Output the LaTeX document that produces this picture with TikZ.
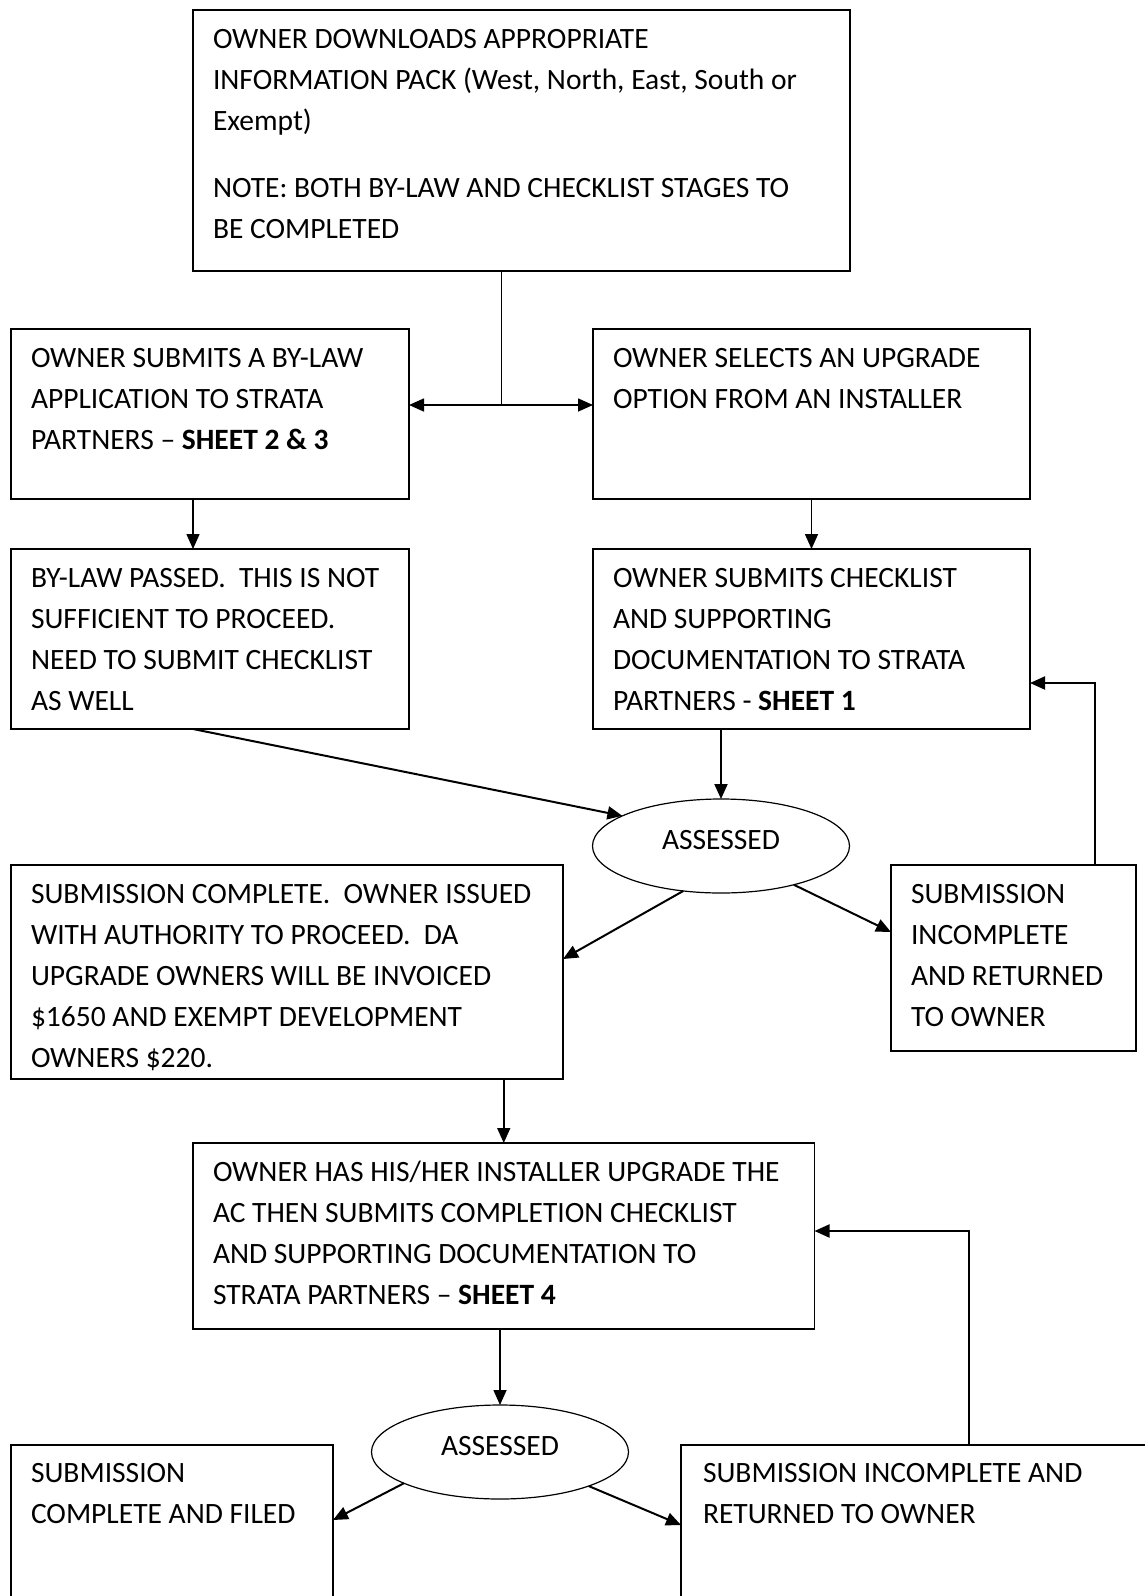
\documentclass[tikz,border=0pt]{standalone}
\usepackage{fontspec}
\setmainfont{Carlito}
\usetikzlibrary{shapes.geometric,arrows.meta}
\begin{document}
\begin{tikzpicture}[x=1pt,y=-1pt,
  box/.style={draw,line width=1.2pt,inner sep=0pt,outer sep=0pt,anchor=north west},
  txt/.style={inner sep=0pt,outer sep=0pt,anchor=north west,align=left,font=\fontsize{29.5}{40.8}\selectfont},
  oval/.style={draw,ellipse,line width=1.2pt,inner sep=0pt,outer sep=0pt,minimum width=257pt,minimum height=94pt},
  lbl/.style={inner sep=0pt,font=\fontsize{29.5}{40.8}\selectfont},
  arr/.style={line width=1.6pt,-{Triangle[length=15pt,width=13pt]}},
  thickarr/.style={arr,line width=2pt},
  link/.style={line width=0.9pt}
  ]
\useasboundingbox (0,0) rectangle (1145,1596);

% boxes
\node[box,minimum width=657pt,minimum height=261pt] (b1) at (193,10) {};
\node[box,minimum width=398pt,minimum height=170pt] (b2) at (11,329) {};
\node[box,minimum width=437pt,minimum height=170pt] (b3) at (593,329) {};
\node[box,minimum width=398pt,minimum height=180pt] (b4) at (11,549) {};
\node[box,minimum width=437pt,minimum height=180pt] (b5) at (593,549) {};
\node[box,minimum width=552pt,minimum height=214pt] (b6) at (11,865) {};
\node[box,minimum width=245pt,minimum height=186pt] (b7) at (891,865) {};
\node[box,minimum width=621.5pt,minimum height=186pt] (b8) at (193,1143) {};
\node[box,minimum width=322pt,minimum height=250pt] (b9) at (11,1445) {};
\node[box,minimum width=550pt,minimum height=250pt] (b10) at (681,1445) {};

\node[oval] (e1) at (721,846) {};
\node[oval] (e2) at (500,1452) {};

% texts
\node[txt] (t1) at ([shift={(20,10.4)}]b1.north west) {\strut OWNER DOWNLOADS APPROPRIATE\\INFORMATION PACK (West, North, East, South or\\Exempt)\\[26.5pt]NOTE: BOTH BY-LAW AND CHECKLIST STAGES TO\\BE COMPLETED};
\node[txt] (t2) at ([shift={(20,10.4)}]b2.north west) {\strut OWNER SUBMITS A BY-LAW\\APPLICATION TO STRATA\\PARTNERS -- \textbf{SHEET 2 \& 3}};
\node[txt] (t3) at ([shift={(20,10.4)}]b3.north west) {\strut OWNER SELECTS AN UPGRADE\\OPTION FROM AN INSTALLER};
\node[txt] (t4) at ([shift={(20,10.4)}]b4.north west) {\strut BY-LAW PASSED.\ \ THIS IS NOT\\SUFFICIENT TO PROCEED.\\NEED TO SUBMIT CHECKLIST\\AS WELL};
\node[txt] (t5) at ([shift={(20,10.4)}]b5.north west) {\strut OWNER SUBMITS CHECKLIST\\AND SUPPORTING\\DOCUMENTATION TO STRATA\\PARTNERS - \textbf{SHEET 1}};
\node[txt] (t6) at ([shift={(20,10.4)}]b6.north west) {\strut SUBMISSION COMPLETE.\ \ OWNER ISSUED\\WITH AUTHORITY TO PROCEED.\ \ DA\\UPGRADE OWNERS WILL BE INVOICED\\\$1650 AND EXEMPT DEVELOPMENT\\OWNERS \$220.};
\node[txt] (t7) at ([shift={(20,10.4)}]b7.north west) {\strut SUBMISSION\\INCOMPLETE\\AND RETURNED\\TO OWNER};
\node[txt] (t8) at ([shift={(20,10.4)}]b8.north west) {\strut OWNER HAS HIS/HER INSTALLER UPGRADE THE\\AC THEN SUBMITS COMPLETION CHECKLIST\\AND SUPPORTING DOCUMENTATION TO\\STRATA PARTNERS -- \textbf{SHEET 4}};
\node[txt] (t9) at ([shift={(20,9.4)}]b9.north west) {\strut SUBMISSION\\COMPLETE AND FILED};
\node[txt] (t10) at ([shift={(22,9.4)}]b10.north west) {\strut SUBMISSION INCOMPLETE AND\\RETURNED TO OWNER};
\node[lbl] (l1) at ([yshift=6pt]e1.center) {ASSESSED};
\node[lbl] (l2) at ([yshift=6pt]e2.center) {ASSESSED};

% connectors
\coordinate (j) at (501,405);
\draw[link] (j |- b1.south) -- (j);
\draw[arr] (j) -- (j -| b2.east);
\draw[arr] (j) -- (j -| b3.west);
\draw[arr] ([xshift=-17pt]b2.south) -- ([xshift=-17pt]b4.north);
\draw[arr] (b3.south) -- (b5.north);
\draw[thickarr] ([xshift=-17pt]b4.south) -- (e1.163);
\draw[thickarr] (b5.south -| e1.north) -- (e1.north);
\draw[thickarr] (e1.230) -- ([yshift=13pt]b6.east);
\draw[thickarr] (e1.332) -- ([yshift=26pt]b7.west);
\draw[thickarr] ([xshift=81.5pt]b7.north) |- ([yshift=-44pt]b5.east);
\draw[arr] (b6.south -| b8.north) -- (b8.north);
\draw[arr] (b8.south -| e2.north) -- (e2.north);
\draw[thickarr] (e2.198) -- ([yshift=-75pt]b9.north east);
\draw[thickarr] (e2.339) -- ([yshift=-80pt]b10.north west);
\draw[thickarr] ([xshift=288pt]b10.north west) |- ([yshift=5pt]b8.east);
\end{tikzpicture}
\end{document}
